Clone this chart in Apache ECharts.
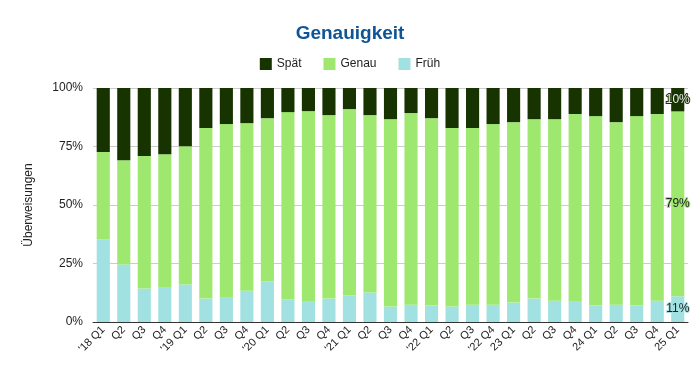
<!DOCTYPE html>
<html>
<head>
<meta charset="utf-8">
<script src="https://cdn.jsdelivr.net/npm/echarts@6/dist/echarts.min.js"></script>
<style>
html,body{margin:0;padding:0;background:#fff;}
#chart{width:700px;height:377px;}
</style>
</head>
<body>
<div id="chart"></div>
<script>
var categories = ["'18 Q1","Q2","Q3","Q4","'19 Q1","Q2","Q3","Q4","'20 Q1","Q2","Q3","Q4","'21 Q1","Q2","Q3","Q4","'22 Q1","Q2","Q3","'22 Q4","23 Q1","Q2","Q3","Q4","24 Q1","Q2","Q3","Q4","25 Q1"];
var frueh = [35.3,24.6,14.3,14.9,16.0,10.0,10.4,13.4,17.4,9.6,8.7,10.0,11.3,12.6,6.6,7.4,7.0,6.6,7.4,7.4,8.3,10.0,9.1,8.7,7.0,7.4,7.0,9.1,11];
var genau = [37.3,44.5,56.6,56.8,59.1,72.9,74.2,71.6,69.7,80.1,81.4,78.4,79.7,75.8,80.1,81.9,80.1,76.3,75.5,77.2,77.1,76.7,77.6,80.2,81.0,78.0,81.0,79.8,79];
var spaet = [27.4,30.9,29.1,28.3,24.9,17.1,15.4,15.0,12.9,10.3,9.9,11.6,9.0,11.6,13.3,10.7,12.9,17.1,17.1,15.4,14.6,13.3,13.3,11.1,12.0,14.6,12.0,11.1,10];
var yTicks = [0,25,50,75,100];

var last = categories.length - 1;
function lbl(textColor, borderColor){
  return {
    show: true,
    position: 'inside',
    fontSize: 12,
    fontFamily: 'Liberation Sans, Arial, sans-serif',
    color: textColor,
    textBorderColor: borderColor,
    textBorderWidth: 2,
    formatter: function(p){ return p.dataIndex === last ? Math.round(p.value) + '%' : ''; }
  };
}
var chart = echarts.init(document.getElementById('chart'), null, {renderer:'canvas'});
chart.setOption({
  animation: false,
  textStyle: {fontFamily: 'Liberation Sans, Arial, sans-serif'},
  title: {
    text: 'Genauigkeit', left: 'center', top: 19,
    textStyle: {fontSize: 19, fontWeight: 'bold', color: '#0f5596', fontFamily: 'Liberation Sans, Arial, sans-serif'}
  },
  legend: {
    data: ['Spät','Genau','Früh'], top: 53, left: 'center',
    itemWidth: 12, itemHeight: 12, itemGap: 22, icon: 'rect',
    textStyle: {fontSize: 12, color: '#222'}
  },
  grid: {left: 93, right: 12, top: 88, bottom: 55},
  xAxis: {
    type: 'category', data: categories,
    axisTick: {show: false},
    axisLine: {lineStyle: {color: '#333', width: 1}},
    axisLabel: {interval: 0, rotate: 45, fontSize: 11, color: '#222', margin: 6}
  },
  yAxis: {
    type: 'value', min: yTicks[0], max: yTicks[yTicks.length-1], interval: 25,
    name: 'Überweisungen', nameLocation: 'middle', nameGap: 58,
    nameTextStyle: {fontSize: 12, color: '#222'},
    axisLine: {show: false}, axisTick: {show: false},
    axisLabel: {formatter: '{value}%', fontSize: 12, color: '#222', margin: 10},
    splitLine: {lineStyle: {color: '#cccccc'}}
  },
  series: [
    {name: 'Früh', type: 'bar', stack: 'a', data: frueh, barCategoryGap: '36%',
     itemStyle: {color: '#a2e1e1'}, label: lbl('#222', '#a2e1e1')},
    {name: 'Genau', type: 'bar', stack: 'a', data: genau,
     itemStyle: {color: '#9fe870'}, label: lbl('#222', '#9fe870')},
    {name: 'Spät', type: 'bar', stack: 'a', data: spaet,
     itemStyle: {color: '#173300'}, label: lbl('#eeeeee', '#173300')}
  ]
});
</script>
</body>
</html>
